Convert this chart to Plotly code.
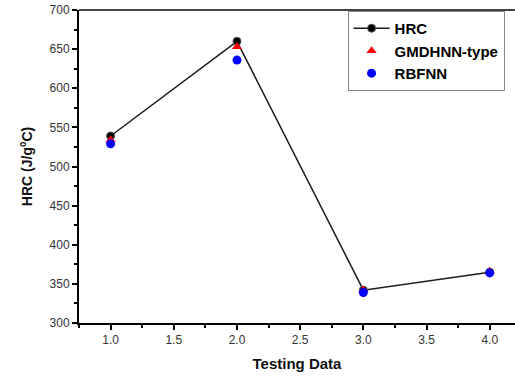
import plotly.graph_objects as go

x_vals = [1.0, 2.0, 3.0, 4.0]
hrc = [539, 660, 342, 365]
gmdhnn = [534, 653, 342, 366]
rbfnn = [529, 636, 339, 364]

fig = go.Figure()
fig.add_trace(go.Scatter(x=x_vals, y=hrc, mode="lines+markers", name="HRC",
                         line=dict(color="#1a1a1a", width=1.5),
                         marker=dict(symbol="circle", size=8, color="black",
                                     line=dict(color="#555", width=1))))
fig.add_trace(go.Scatter(x=x_vals, y=gmdhnn, mode="markers", name="GMDHNN-type",
                         marker=dict(symbol="triangle-up", size=9, color="red")))
fig.add_trace(go.Scatter(x=x_vals, y=rbfnn, mode="markers", name="RBFNN",
                         marker=dict(symbol="circle", size=9, color="blue")))

axis_font = dict(family="Liberation Sans, Arial", size=12, color="#333")
fig.update_layout(
    width=515, height=377,
    margin=dict(l=79, r=0, t=10, b=54),
    plot_bgcolor="white", paper_bgcolor="white",
    font=dict(family="Liberation Sans, Arial", color="black"),
    legend=dict(x=0.616, y=0.997, xanchor="left", yanchor="top",
                bgcolor="white", bordercolor="#888", borderwidth=1,
                font=dict(size=15, family="Liberation Sans, Arial", weight="bold"),
                tracegroupgap=0, itemwidth=36),
    showlegend=True,
)
fig.update_xaxes(range=[0.75, 4.2], tickvals=[1.0, 1.5, 2.0, 2.5, 3.0, 3.5, 4.0],
                 ticktext=["1.0", "1.5", "2.0", "2.5", "3.0", "3.5", "4.0"],
                 showgrid=False, zeroline=False, showline=True, linecolor="black", linewidth=2,
                 ticks="outside", ticklen=5, tickwidth=2, tickcolor="black",
                 minor=dict(ticks="outside", ticklen=3, tickwidth=2, tickcolor="black", dtick=0.25),
                 tickfont=axis_font,
                 title=dict(text="<b>Testing Data</b>", font=dict(size=15, color="#111"), standoff=12))
fig.update_yaxes(range=[300, 700], dtick=50,
                 showgrid=False, zeroline=False, showline=True, linecolor="black", linewidth=2,
                 ticks="outside", ticklen=5, tickwidth=2, tickcolor="black",
                 minor=dict(ticks="outside", ticklen=3, tickwidth=2, tickcolor="black", dtick=25),
                 tickfont=axis_font,
                 title=dict(text="<b>HRC (J/g<sup>0</sup>C)</b>", font=dict(size=14, color="#111"), standoff=14))
fig.add_shape(type="line", xref="paper", yref="paper", x0=0, x1=1, y0=1, y1=1,
              line=dict(color="#444", width=2))

fig.write_html("out.html", config={"displayModeBar": False},
               post_script="document.body.style.margin='0';document.body.style.overflow='hidden';")
